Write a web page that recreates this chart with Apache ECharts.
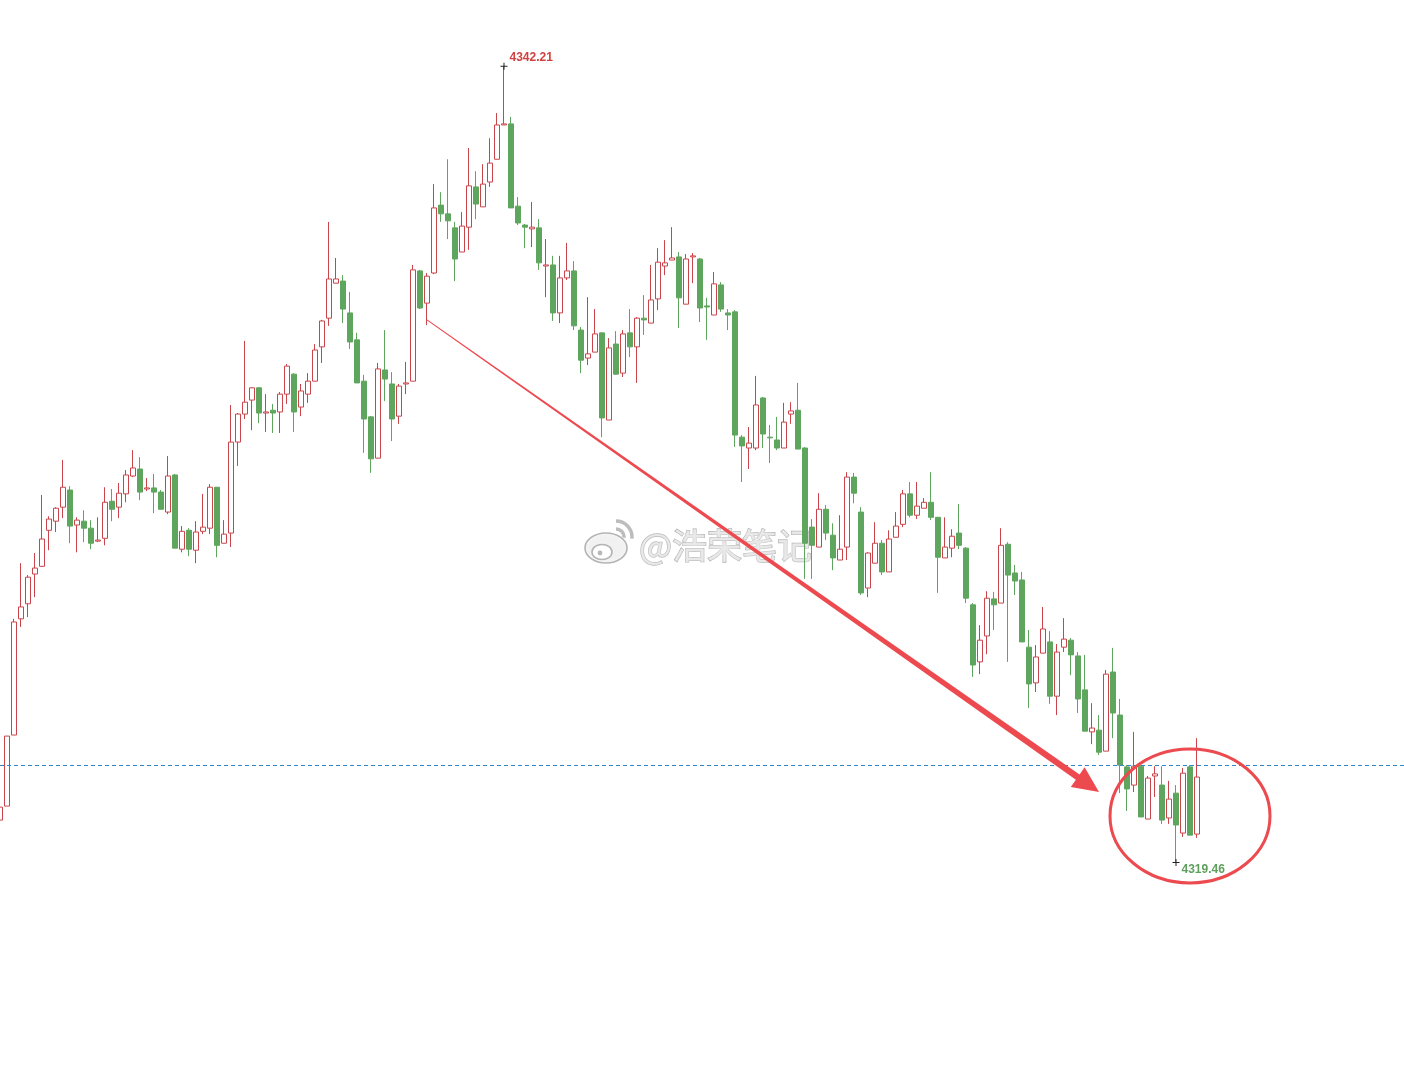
<!DOCTYPE html>
<html>
<head>
<meta charset="utf-8">
<title>K线</title>
<script src="https://cdn.jsdelivr.net/npm/echarts@6/dist/echarts.min.js"></script>
<style>
  html, body { margin: 0; padding: 0; background: #fff; }
  #main { width: 1404px; height: 1084px; }
</style>
</head>
<body>
<div id="main"></div>
<script>
// K线数据，按顺序 0..171
var opens = [
  4320.67, 4321.07, 4323.10, 4326.42, 4326.85, 4327.70, 4327.92, 4328.95, 4329.21, 4329.61,
  4330.10, 4329.10, 4329.21, 4329.01, 4328.64, 4328.72, 4329.78, 4329.61, 4329.99, 4330.50,
  4330.70, 4330.13, 4330.16, 4330.04, 4329.47, 4330.53, 4328.41, 4328.95, 4328.38, 4328.92,
  4329.01, 4330.18, 4328.58, 4328.87, 4331.47, 4332.27, 4332.67, 4333.02, 4332.30, 4332.38,
  4332.33, 4332.84, 4333.41, 4332.47, 4332.84, 4333.21, 4334.19, 4335.01, 4336.01, 4336.07,
  4335.16, 4334.39, 4333.21, 4332.19, 4331.01, 4333.53, 4333.13, 4332.21, 4333.13, 4333.21,
  4336.36, 4335.44, 4336.30, 4338.24, 4337.99, 4337.59, 4336.90, 4337.61, 4338.76, 4338.19,
  4338.90, 4339.55, 4340.53, 4340.56, 4338.21, 4337.67, 4337.56, 4337.59, 4336.50, 4336.53,
  4335.16, 4336.16, 4336.36, 4334.67, 4333.87, 4334.04, 4334.59, 4332.10, 4334.27, 4333.44,
  4334.59, 4334.19, 4335.01, 4334.87, 4335.56, 4336.50, 4336.67, 4336.76, 4335.41, 4336.76,
  4336.70, 4335.36, 4335.10, 4335.96, 4335.16, 4335.19, 4331.61, 4331.30, 4331.30, 4332.73,
  4331.61, 4331.53, 4331.30, 4332.27, 4332.38, 4331.30, 4329.04, 4328.47, 4329.55, 4328.81,
  4328.10, 4328.47, 4330.47, 4329.47, 4327.30, 4328.01, 4328.58, 4327.76, 4328.75, 4329.12,
  4329.99, 4329.38, 4329.58, 4329.75, 4329.32, 4328.16, 4328.44, 4328.87, 4328.44, 4326.82,
  4325.19, 4325.93, 4326.99, 4326.87, 4328.55, 4327.73, 4327.53, 4325.61, 4324.59, 4325.44,
  4325.76, 4324.21, 4325.61, 4325.81, 4325.36, 4324.39, 4323.19, 4323.24, 4322.64, 4324.90,
  4323.67, 4322.19, 4321.67, 4322.21, 4320.70, 4321.93, 4321.67, 4320.73, 4321.44, 4320.30,
  4322.19, 4320.27
];
var closes = [
  4321.04, 4323.07, 4326.33, 4326.76, 4327.61, 4327.87, 4328.70, 4329.27, 4329.58, 4330.18,
  4329.07, 4329.24, 4329.01, 4328.58, 4328.67, 4329.75, 4329.55, 4330.01, 4330.53, 4330.73,
  4330.04, 4330.16, 4330.04, 4329.55, 4330.50, 4328.44, 4328.92, 4328.41, 4328.90, 4329.04,
  4330.18, 4328.52, 4328.84, 4331.47, 4332.27, 4332.61, 4333.02, 4332.30, 4332.33, 4332.30,
  4332.84, 4333.64, 4332.33, 4332.93, 4333.21, 4334.10, 4334.93, 4336.13, 4336.13, 4335.27,
  4334.33, 4333.16, 4332.13, 4330.99, 4333.56, 4333.27, 4332.13, 4333.07, 4333.16, 4336.39,
  4335.30, 4336.21, 4338.16, 4337.99, 4337.79, 4336.70, 4337.64, 4338.79, 4338.27, 4338.84,
  4339.44, 4340.53, 4340.56, 4338.16, 4337.73, 4337.61, 4337.61, 4336.59, 4336.53, 4335.16,
  4336.16, 4336.36, 4334.79, 4333.81, 4333.99, 4334.56, 4332.16, 4334.16, 4333.41, 4334.56,
  4334.19, 4335.01, 4334.96, 4335.53, 4336.61, 4336.59, 4336.73, 4335.59, 4336.70, 4336.79,
  4335.30, 4335.33, 4335.99, 4335.27, 4335.10, 4331.67, 4331.36, 4331.44, 4332.53, 4331.70,
  4331.59, 4331.30, 4332.04, 4332.36, 4331.27, 4328.58, 4328.52, 4329.55, 4328.87, 4328.16,
  4328.41, 4330.47, 4330.01, 4327.16, 4328.30, 4328.58, 4327.76, 4328.70, 4329.07, 4329.99,
  4329.38, 4329.64, 4329.75, 4329.32, 4328.18, 4328.47, 4328.78, 4328.52, 4327.01, 4325.10,
  4325.81, 4327.01, 4326.82, 4328.52, 4327.67, 4327.50, 4325.76, 4324.56, 4325.33, 4326.13,
  4324.21, 4325.47, 4325.84, 4325.39, 4324.13, 4323.21, 4323.30, 4322.61, 4324.84, 4323.73,
  4322.24, 4321.56, 4322.21, 4320.76, 4321.87, 4321.99, 4320.67, 4321.27, 4320.53, 4322.01,
  4320.24, 4321.90
];
var lows = [
  4320.67, 4321.07, 4323.10, 4326.19, 4326.47, 4327.04, 4327.90, 4328.38, 4328.90, 4329.30,
  4328.58, 4328.32, 4328.61, 4328.41, 4328.61, 4328.52, 4329.21, 4329.30, 4329.75, 4330.47,
  4329.81, 4330.07, 4329.44, 4329.55, 4329.41, 4328.44, 4328.32, 4328.21, 4328.01, 4328.84,
  4328.84, 4328.18, 4328.58, 4328.47, 4330.79, 4332.13, 4331.81, 4332.01, 4331.76, 4331.73,
  4331.73, 4332.56, 4331.76, 4332.21, 4332.59, 4333.21, 4333.73, 4334.79, 4336.01, 4334.87,
  4334.13, 4333.16, 4331.16, 4330.59, 4331.01, 4332.64, 4331.50, 4331.99, 4332.84, 4333.21,
  4335.27, 4334.81, 4336.27, 4337.76, 4337.27, 4336.07, 4336.90, 4336.96, 4337.84, 4338.19,
  4338.76, 4339.55, 4340.53, 4338.16, 4337.67, 4337.01, 4337.04, 4336.39, 4335.61, 4334.93,
  4334.87, 4336.10, 4334.67, 4333.44, 4333.67, 4334.04, 4331.61, 4332.10, 4333.39, 4333.33,
  4333.90, 4333.16, 4334.53, 4334.87, 4335.24, 4336.24, 4336.67, 4334.73, 4335.41, 4336.01,
  4334.90, 4334.39, 4335.10, 4335.19, 4334.67, 4331.33, 4330.33, 4330.70, 4331.24, 4331.30,
  4330.87, 4331.24, 4331.30, 4331.99, 4331.27, 4327.56, 4327.56, 4328.47, 4328.67, 4327.81,
  4328.10, 4328.10, 4329.72, 4327.10, 4327.04, 4328.01, 4327.67, 4327.76, 4328.75, 4329.04,
  4329.32, 4329.27, 4329.58, 4329.24, 4327.16, 4328.16, 4328.18, 4328.41, 4326.87, 4324.76,
  4324.84, 4325.41, 4326.10, 4326.87, 4325.19, 4327.10, 4325.76, 4323.87, 4324.33, 4325.44,
  4323.99, 4323.67, 4325.47, 4324.81, 4323.73, 4323.21, 4322.84, 4322.53, 4322.64, 4323.01,
  4321.44, 4320.93, 4321.47, 4320.76, 4320.70, 4321.33, 4320.56, 4320.56, 4319.46, 4320.19,
  4320.24, 4320.16
];
var highs = [
  4321.04, 4323.07, 4326.42, 4328.01, 4327.67, 4328.30, 4329.96, 4329.35, 4329.61, 4330.96,
  4330.21, 4329.32, 4329.52, 4329.24, 4329.32, 4330.18, 4330.13, 4330.30, 4330.67, 4331.24,
  4331.04, 4330.44, 4330.56, 4330.10, 4331.07, 4330.56, 4329.07, 4329.01, 4329.21, 4329.99,
  4330.27, 4330.18, 4329.24, 4332.53, 4332.30, 4334.36, 4333.04, 4333.04, 4332.84, 4332.56,
  4332.90, 4333.70, 4333.44, 4333.13, 4333.44, 4334.27, 4334.96, 4337.76, 4336.73, 4336.24,
  4335.76, 4334.59, 4333.39, 4332.21, 4333.73, 4334.67, 4333.47, 4333.13, 4333.76, 4336.53,
  4336.39, 4336.30, 4338.84, 4338.61, 4339.55, 4337.76, 4338.04, 4339.87, 4339.21, 4339.41,
  4340.15, 4340.87, 4342.21, 4340.76, 4338.47, 4337.70, 4338.33, 4337.84, 4337.27, 4336.79,
  4336.79, 4337.16, 4336.64, 4334.76, 4335.61, 4335.27, 4334.59, 4334.44, 4334.64, 4334.67,
  4335.27, 4335.04, 4335.67, 4336.53, 4337.01, 4337.24, 4337.61, 4336.90, 4336.84, 4336.87,
  4336.73, 4335.59, 4336.33, 4336.04, 4335.27, 4335.24, 4331.67, 4331.90, 4333.36, 4332.76,
  4331.96, 4332.19, 4332.59, 4332.61, 4333.16, 4331.33, 4329.27, 4330.01, 4329.67, 4329.15,
  4329.38, 4330.61, 4330.59, 4329.61, 4328.32, 4329.18, 4328.67, 4328.95, 4329.47, 4330.10,
  4330.33, 4330.33, 4329.87, 4330.61, 4329.32, 4329.32, 4328.98, 4329.70, 4328.47, 4326.87,
  4326.24, 4327.21, 4327.19, 4329.01, 4328.61, 4327.96, 4327.76, 4326.10, 4325.67, 4326.76,
  4326.07, 4325.70, 4326.44, 4325.87, 4325.47, 4325.39, 4324.01, 4323.67, 4324.96, 4325.59,
  4324.13, 4322.24, 4323.19, 4322.24, 4321.93, 4322.21, 4322.21, 4321.79, 4321.67, 4322.16,
  4322.24, 4323.01
];

var slotCount = 201;          // 172根K线 + 右侧留白
var hiIdx = 72, loIdx = 168;  // 最高 / 最低
var refPrice = 4322.24;       // 蓝色虚线
var yMin = 4313.13, yMax = 4344.10;
var arrowFrom = [61, 4334.96];
var arrowTo = [157, 4321.47];
var circleAt = [170, 4320.79];

var upColor = '#c9454b';
var downColor = '#5ea55e';
var markRed = '#ec4a4f';
var dashBlue = '#2f87cc';

var candles = opens.map(function (o, i) { return [o, closes[i], lows[i], highs[i]]; });
var categories = [];
for (var k = 0; k < slotCount; k++) categories.push(String(k + 1));

var chart = echarts.init(document.getElementById('main'));

var crossPath = 'path://M0,3H7V4H0Z M3,0H4V7H3Z';

chart.setOption({
  animation: false,
  backgroundColor: '#ffffff',
  grid: { left: 0, right: 4, top: 0, bottom: 0 },
  xAxis: {
    type: 'category',
    data: categories,
    boundaryGap: false,
    show: false
  },
  yAxis: {
    type: 'value',
    min: yMin,
    max: yMax,
    show: false,
    splitLine: { show: false }
  },
  series: [
    {
      type: 'candlestick',
      data: candles,
      barWidth: 5,
      itemStyle: {
        color: '#ffffff',
        color0: downColor,
        borderColor: upColor,
        borderColor0: downColor,
        borderWidth: 1
      },
      markPoint: {
        symbol: crossPath,
        symbolSize: 7,
        itemStyle: { color: '#222222' },
        label: { fontFamily: 'Liberation Sans, Arial', fontWeight: 'bold', fontSize: 12 },
        data: [
          {
            coord: [hiIdx, highs[hiIdx]],
            value: highs[hiIdx].toFixed(2),
            label: { position: 'right', distance: 2, offset: [0, -8], color: '#d2403f' }
          },
          {
            coord: [loIdx, lows[loIdx]],
            value: lows[loIdx].toFixed(2),
            label: { position: 'right', distance: 2, offset: [0, 7], color: '#5fa05f' }
          }
        ]
      }
    }
  ]
});

// 虚线、箭头和圆圈
var a = chart.convertToPixel({ seriesIndex: 0 }, arrowFrom);
var b = chart.convertToPixel({ seriesIndex: 0 }, arrowTo);
var c = chart.convertToPixel({ seriesIndex: 0 }, circleAt);
var refY = Math.round(chart.convertToPixel({ yAxisIndex: 0 }, refPrice)) + 0.5;

var dx = b[0] - a[0], dy = b[1] - a[1];
var len = Math.sqrt(dx * dx + dy * dy);
var ux = dx / len, uy = dy / len, px = -uy, py = ux;
var headLen = 26, headHalf = 12;
var bx = b[0] - ux * headLen, by = b[1] - uy * headLen;
var w0 = 0.5, w1 = 3.2;
var ex = bx + ux * 3, ey = by + uy * 3;

chart.setOption({
  graphic: [
    {
      type: 'line',
      z: 5,
      silent: true,
      shape: { x1: 0, y1: refY, x2: 1404, y2: refY },
      style: { stroke: dashBlue, lineWidth: 1, lineDash: [4, 3] }
    },
    {
      type: 'polygon',
      z: 10,
      shape: { points: [
        [a[0] + px * w0, a[1] + py * w0],
        [ex + px * w1, ey + py * w1],
        [ex - px * w1, ey - py * w1],
        [a[0] - px * w0, a[1] - py * w0]
      ] },
      style: { fill: markRed }
    },
    {
      type: 'polygon',
      z: 10,
      shape: { points: [
        [b[0], b[1]],
        [bx + px * headHalf, by + py * headHalf],
        [bx - px * headHalf, by - py * headHalf]
      ] },
      style: { fill: markRed }
    },
    {
      type: 'ellipse',
      z: 10,
      shape: { cx: c[0], cy: c[1], rx: 80, ry: 67 },
      style: { fill: null, stroke: markRed, lineWidth: 3 }
    },
    // 水印
    {
      type: 'group',
      z: 20,
      children: [
        { type: 'ellipse', shape: { cx: 606, cy: 548, rx: 21, ry: 15 },
          style: { fill: 'rgba(240,240,240,0.92)', stroke: '#b4b4b4', lineWidth: 1.6,
                   shadowColor: 'rgba(255,255,255,1)', shadowBlur: 4 } },
        { type: 'ellipse', shape: { cx: 602, cy: 552, rx: 10, ry: 7.5 },
          style: { fill: 'rgba(255,255,255,0.95)', stroke: '#b4b4b4', lineWidth: 1.6 } },
        { type: 'circle', shape: { cx: 600, cy: 553, r: 2.4 }, style: { fill: '#b8b8b8' } },
        { type: 'arc', shape: { cx: 616, cy: 537, r: 8, startAngle: -Math.PI / 2, endAngle: 0.1 },
          style: { stroke: '#bdbdbd', lineWidth: 3.5, fill: null } },
        { type: 'arc', shape: { cx: 616, cy: 537, r: 16, startAngle: -Math.PI / 2, endAngle: 0.1 },
          style: { stroke: '#bdbdbd', lineWidth: 3.5, fill: null } },
        { type: 'text', x: 639, y: 546,
          style: {
            text: '@浩荣笔记',
            font: '35px "Noto Sans CJK SC"',
            verticalAlign: 'middle',
            fill: 'rgba(232,232,232,0.95)',
            stroke: 'rgba(130,130,130,0.75)',
            lineWidth: 1.3,
            textShadowColor: 'rgba(255,255,255,1)',
            textShadowBlur: 5
          } }
      ]
    }
  ]
});
</script>
</body>
</html>
